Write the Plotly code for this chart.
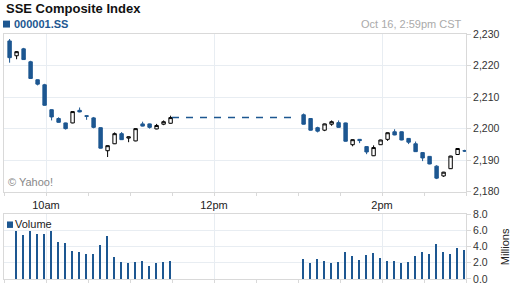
import plotly.graph_objects as go

DAY = "2012-10-16 "
BLUE = "#1d5791"
GRID = "#e8edf2"
BORDER = "#d9d9d9"
FONT = "Liberation Sans, Arial, sans-serif"

# 5-minute candles (time stamp = last minute of each interval)
times = ["09:34", "09:39", "09:44", "09:49", "09:54", "09:59", "10:04", "10:09",
         "10:14", "10:19", "10:24", "10:29", "10:34", "10:39", "10:44", "10:49",
         "10:54", "10:59", "11:04", "11:09", "11:14", "11:19", "11:24", "11:29",
         "13:04", "13:09", "13:14", "13:19", "13:24", "13:29", "13:34", "13:39",
         "13:44", "13:49", "13:54", "13:59", "14:04", "14:09", "14:14", "14:19",
         "14:24", "14:29", "14:34", "14:39", "14:44", "14:49", "14:54", "14:59"]

opens = [2227.8, 2223.1, 2225.3, 2221.2, 2215.5, 2213.9, 2206.0, 2203.2,
         2201.8, 2201.8, 2205.8, 2204.1, 2203.4, 2200.3, 2193.0, 2195.2,
         2198.4, 2197.0, 2196.1, 2201.5, 2201.5, 2199.9, 2201.4, 2201.7,
         2204.4, 2203.2, 2200.3, 2199.5, 2201.4, 2201.9, 2201.8, 2194.9,
         2196.6, 2194.3, 2191.4, 2194.9, 2196.6, 2199.0, 2199.0, 2196.9,
         2195.2, 2192.4, 2191.2, 2188.1, 2185.0, 2187.3, 2191.8, 2193.0]
highs = [2228.4, 2224.6, 2225.6, 2221.5, 2215.6, 2214.2, 2206.1, 2203.6,
         2201.9, 2205.5, 2206.7, 2204.2, 2203.7, 2200.4, 2194.7, 2198.8,
         2198.9, 2197.5, 2200.1, 2202.2, 2201.6, 2201.5, 2202.6, 2204.1,
         2204.8, 2203.3, 2200.6, 2201.6, 2202.6, 2202.6, 2201.9, 2196.6,
         2196.7, 2194.4, 2194.7, 2196.5, 2198.8, 2199.8, 2199.1, 2197.0,
         2195.9, 2192.5, 2191.3, 2188.4, 2186.3, 2191.4, 2193.8, 2193.3]
lows = [2220.9, 2222.0, 2221.8, 2215.8, 2213.7, 2207.3, 2202.6, 2201.9,
        2199.7, 2201.7, 2205.2, 2202.8, 2200.1, 2193.7, 2191.0, 2195.1,
        2196.4, 2195.7, 2196.0, 2200.7, 2200.0, 2199.8, 2201.1, 2201.6,
        2201.3, 2199.4, 2198.8, 2199.2, 2200.9, 2200.3, 2195.9, 2194.4,
        2195.4, 2191.9, 2191.3, 2194.8, 2196.1, 2197.9, 2196.3, 2195.1,
        2192.6, 2189.7, 2188.7, 2184.0, 2184.7, 2187.2, 2191.7, 2192.6]
closes = [2222.5, 2224.4, 2221.9, 2215.9, 2214.1, 2207.4, 2203.7, 2202.0,
          2200.0, 2205.4, 2205.3, 2203.9, 2200.4, 2193.8, 2194.6, 2198.4,
          2196.5, 2197.4, 2200.0, 2200.8, 2200.4, 2201.0, 2202.2, 2203.5,
          2201.4, 2199.5, 2199.2, 2201.5, 2202.2, 2200.4, 2196.0, 2196.5,
          2196.2, 2192.6, 2194.0, 2196.4, 2198.7, 2198.0, 2196.4, 2195.7,
          2192.7, 2190.7, 2188.8, 2184.3, 2186.2, 2191.3, 2193.7, 2192.9]

# volume in millions (no bar for the first candle)
volumes = [None, 5.85, 5.4, 5.85, 5.5, 5.5, 5.85, 4.5, 4.4, 3.45, 3.3, 3.0,
           3.0, 4.2, 5.3, 2.7, 2.1, 1.9, 2.1, 2.2, 1.6, 1.9, 2.1, 2.2,
           2.45, 1.95, 2.45, 2.2, 1.95, 2.05, 3.3, 2.8, 2.3, 2.9, 3.15, 2.55,
           2.2, 2.2, 1.95, 2.05, 2.8, 3.3, 3.05, 4.25, 3.3, 3.05, 3.8, 3.5]

lunch = ["11:30", "13:00"]
session = ["09:30", "15:00"]
price_ticks = [2180, 2190, 2200, 2210, 2220, 2230]
vol_ticks = [0, 2, 4, 6, 8]
time_ticks = ["10:00", "12:00", "14:00"]
time_labels = ["10am", "12pm", "2pm"]

xs = [DAY + t for t in times]
morning_close = closes[times.index("11:29")]

W, H = 512, 288
ML, MR, MT, MB = 3, 46, 34, 7
PW, PH = W - ML - MR, H - MT - MB


def px(x):
    return (x - ML) / PW


def py(y):
    return (H - MB - y) / PH


fig = go.Figure()
fig.add_trace(go.Candlestick(
    x=xs, open=opens, high=highs, low=lows, close=closes,
    increasing=dict(line=dict(color="black", width=1), fillcolor="white"),
    decreasing=dict(line=dict(color=BLUE, width=1), fillcolor=BLUE),
    whiskerwidth=0, xaxis="x", yaxis="y", showlegend=False, hoverinfo="skip"))
fig.add_trace(go.Scatter(
    x=[DAY + lunch[0], DAY + lunch[1]], y=[morning_close, morning_close],
    mode="lines", line=dict(color=BLUE, width=1.5, dash="7px,7px"),
    xaxis="x", yaxis="y", showlegend=False, hoverinfo="skip"))
fig.add_trace(go.Bar(
    x=xs, y=volumes, width=55000, marker=dict(color=BLUE, line=dict(width=0)),
    xaxis="x2", yaxis="y2", showlegend=False, hoverinfo="skip"))

main_bottom = 193
vol_top = 215.7

xcommon = dict(
    type="date", range=[DAY + session[0], DAY + session[1]],
    tickvals=[DAY + t for t in time_ticks], ticktext=time_labels,
    showgrid=True, gridcolor=GRID, gridwidth=1,
    showline=True, linecolor=BORDER, mirror=True,
    ticks="outside", ticklen=3, tickcolor=BORDER,
    minor=dict(ticks="outside", ticklen=3, tickcolor=BORDER,
               dtick=30 * 60 * 1000, tick0=DAY + session[0], showgrid=False),
    zeroline=False, rangeslider=dict(visible=False), fixedrange=True,
)

fig.update_layout(
    width=W, height=H, margin=dict(l=ML, r=MR, t=MT, b=MB),
    paper_bgcolor="white", plot_bgcolor="white",
    font=dict(family=FONT, size=11, color="#222"),
    bargap=0,
    xaxis=dict(**xcommon, anchor="y", showticklabels=True,
               tickfont=dict(size=11, color="#222")),
    xaxis2=dict(**xcommon, anchor="y2", matches="x", showticklabels=False),
    yaxis=dict(domain=[py(main_bottom), 1], range=[2180, 2230], side="right",
               tickvals=price_ticks, tickformat=",d",
               showgrid=True, gridcolor=GRID, zeroline=False,
               showline=True, linecolor=BORDER, mirror=True,
               ticks="outside", ticklen=4, tickcolor=BORDER,
               tickfont=dict(size=10.5, color="#333")),
    yaxis2=dict(domain=[0, py(vol_top)], range=[0, 8], side="right",
                tickvals=vol_ticks, tickformat=".1f",
                showgrid=True, gridcolor=GRID, zeroline=False,
                showline=True, linecolor=BORDER, mirror=True,
                ticks="outside", ticklen=4, tickcolor=BORDER,
                tickfont=dict(size=10.5, color="#333")),
)

ann = [
    dict(text="<b>SSE Composite Index</b>", x=px(3), y=py(8), xanchor="left",
         yanchor="middle", font=dict(size=13, color="#111")),
    dict(text="<b>000001.SS</b>", x=px(11), y=py(24), xanchor="left",
         yanchor="middle", font=dict(size=11, color=BLUE)),
    dict(text="Oct 16, 2:59pm CST", x=px(464), y=py(24), xanchor="right",
         yanchor="middle", font=dict(size=11, color="#aaaaaa")),
    dict(text="© Yahoo!", x=px(5), y=py(183), xanchor="left",
         yanchor="middle", font=dict(size=11, color="#888888")),
    dict(text="Volume", x=px(12.5), y=py(226), xanchor="left",
         yanchor="middle", font=dict(size=11, color="#222")),
    dict(text="Millions", x=px(505), y=py(248), xanchor="center",
         yanchor="middle", textangle=-90, font=dict(size=11, color="#222")),
]
for a in ann:
    a.update(xref="paper", yref="paper", showarrow=False)
fig.update_layout(annotations=ann)

fig.update_layout(shapes=[
    dict(type="rect", xref="paper", yref="paper", x0=px(2), x1=px(9),
         y0=py(27.5), y1=py(20.5), fillcolor=BLUE, line=dict(width=0)),
    dict(type="rect", xref="paper", yref="paper", x0=px(6), x1=px(12),
         y0=py(229.5), y1=py(223), fillcolor=BLUE, line=dict(width=0)),
])

fig.write_html("out.html")
